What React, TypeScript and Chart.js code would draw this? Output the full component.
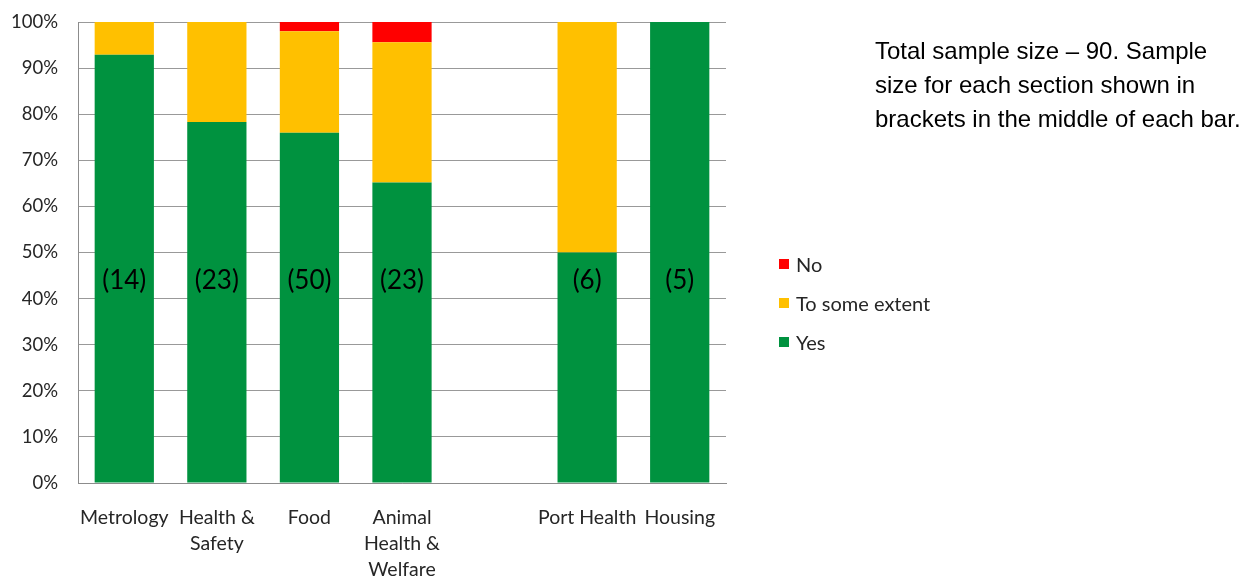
import React, { useEffect, useRef } from "react";
import { Chart, registerables } from "chart.js";

Chart.register(...registerables);

const categories: (string | string[])[] = [
  "Metrology",
  ["Health &", "Safety"],
  "Food",
  ["Animal", "Health &", "Welfare"],
  "",
  "Port Health",
  "Housing",
];
const yesValues = [92.9, 78.3, 76, 65.2, null, 50, 100];
const someValues = [7.1, 21.7, 22, 30.4, null, 50, 0];
const noValues = [0, 0, 2, 4.4, null, 0, 0];
const sampleLabels = ["(14)", "(23)", "(50)", "(23)", "", "(6)", "(5)"];
const sampleLabelLevel = 44;
const seriesNames = ["Yes", "To some extent", "No"];
const seriesColors = ["#00923F", "#FFC000", "#FF0000"];
const noteLines = [
  "Total sample size – 90. Sample",
  "size for each section shown in",
  "brackets in the middle of each bar.",
];

const FONT = "Lato, 'Open Sans', sans-serif";

export default function App() {
  const ref = useRef<HTMLCanvasElement>(null);
  useEffect(() => {
    const labelPlugin = {
      id: "sampleLabels",
      afterDatasetsDraw(chart: any) {
        const { ctx, scales } = chart;
        ctx.save();
        ctx.font = `26px ${FONT}`;
        ctx.fillStyle = "#000";
        ctx.textAlign = "center";
        ctx.textBaseline = "middle";
        sampleLabels.forEach((t, i) => {
          if (!t) return;
          ctx.fillText(t, scales.x.getPixelForValue(i), scales.y.getPixelForValue(sampleLabelLevel));
        });
        ctx.restore();
      },
    };
    const chart = new Chart(ref.current!, {
      type: "bar",
      data: {
        labels: categories,
        datasets: [yesValues, someValues, noValues].map((d, i) => ({
          label: seriesNames[i],
          data: d,
          backgroundColor: seriesColors[i],
          borderWidth: 0,
          categoryPercentage: 1,
          barPercentage: 0.64,
        })),
      },
      options: {
        animation: false,
        responsive: false,
        maintainAspectRatio: false,
        layout: { padding: { top: 22, right: 529, left: 0, bottom: 0 } },
        plugins: { legend: { display: false }, tooltip: { enabled: false } },
        scales: {
          x: {
            stacked: true,
            grid: { display: false, drawTicks: false },
            border: { color: "#8c8c8c", width: 1 },
            ticks: {
              color: "#262626",
              font: { family: FONT, size: 19.5, lineHeight: 1.33 },
              padding: 22,
              maxRotation: 0,
              autoSkip: false,
            },
            afterFit: (s: any) => {
              s.height = 94;
              s.paddingLeft = 0;
              s.paddingRight = 0;
            },
          },
          y: {
            stacked: true,
            min: 0,
            max: 100,
            grid: { color: "#999999", drawTicks: false },
            border: { color: "#8c8c8c", width: 1 },
            ticks: {
              stepSize: 10,
              color: "#262626",
              font: { family: FONT, size: 18.5 },
              padding: 20,
              callback: (v: any) => v + "%",
            },
            afterFit: (s: any) => {
              s.width = 78;
              s.paddingTop = 0;
              s.paddingBottom = 0;
            },
          },
        },
      },
      plugins: [labelPlugin],
    });
    return () => chart.destroy();
  }, []);

  const legendItems = [2, 1, 0];
  return (
    <div style={{ position: "fixed", left: 0, top: 0, width: 1255, height: 577, background: "#fff" }}>
      <canvas ref={ref} width={1255} height={577} style={{ display: "block" }} />
      {legendItems.map((si, k) => (
        <div
          key={si}
          style={{
            position: "absolute",
            left: 779,
            top: 264 + k * 39 - 12,
            height: 24,
            display: "flex",
            alignItems: "center",
            fontFamily: FONT,
            fontSize: 20,
            color: "#262626",
            whiteSpace: "nowrap",
          }}
        >
          <span style={{ display: "inline-block", width: 10, height: 10, background: seriesColors[si], marginRight: 7 }} />
          {seriesNames[si]}
        </div>
      ))}
      <div
        style={{
          position: "absolute",
          left: 875,
          top: 34,
          fontFamily: "'Liberation Sans', Arial, sans-serif",
          fontSize: 24,
          lineHeight: "34px",
          color: "#000",
          whiteSpace: "nowrap",
        }}
      >
        {noteLines.map((l, i) => (
          <div key={i}>{l}</div>
        ))}
      </div>
    </div>
  );
}
